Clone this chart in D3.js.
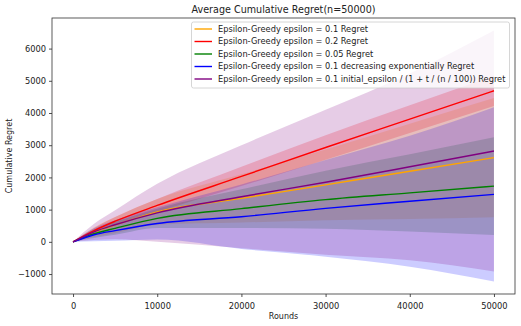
<!DOCTYPE html>
<html>
<head>
<meta charset="utf-8">
<script src="https://cdn.jsdelivr.net/npm/d3@7"></script>
<style>
  body { margin: 0; background: white; }
  text { font-family: "DejaVu Sans", sans-serif; fill: #222; }
</style>
</head>
<body>
<div id="chart"></div>
<script>
var rounds = [0, 2500, 5000, 10000, 20000, 30000, 40000, 50000];

// mean cumulative regret per strategy
var regretEps01   = [0, 300, 520, 930, 1350, 1770, 2190, 2615];
var regretEps02   = [0, 350, 640, 1130, 2030, 2930, 3810, 4690];
var regretEps005  = [0, 250, 420, 730, 1030, 1310, 1520, 1730];
var regretExpDec  = [0, 220, 350, 570, 780, 1040, 1260, 1475];
var regretInvDec  = [0, 310, 530, 900, 1400, 1850, 2330, 2820];

// standard deviation (shaded band is mean +/- std)
var stdEps01  = [0, 150, 250, 400, 750, 1100, 1480, 1850];
var stdEps02  = [0, 80, 130, 200, 300, 380, 430, 470];
var stdEps005 = [0, 130, 200, 300, 600, 900, 1200, 1520];
var stdExpDec = [0, 200, 320, 500, 1000, 1500, 2030, 2705];
var stdInvDec = [0, 250, 450, 900, 1600, 2250, 2900, 3740];

var seriesNames = [
    "Epsilon-Greedy epsilon = 0.1 Regret",
    "Epsilon-Greedy epsilon = 0.2 Regret",
    "Epsilon-Greedy epsilon = 0.05 Regret",
    "Epsilon-Greedy epsilon = 0.1 decreasing exponentially Regret",
    "Epsilon-Greedy epsilon = 0.1 initial_epsilon / (1 + t / (n / 100)) Regret"
];
var seriesColors = ["orange", "red", "green", "blue", "purple"];

var xTicks = [0, 10000, 20000, 30000, 40000, 50000];
var yTicks = [-1000, 0, 1000, 2000, 3000, 4000, 5000, 6000];

var means = [regretEps01, regretEps02, regretEps005, regretExpDec, regretInvDec];
var stds = [stdEps01, stdEps02, stdEps005, stdExpDec, stdInvDec];

var series = seriesNames.map(function(name, i) {
    return {
        name: name,
        color: seriesColors[i],
        points: rounds.map(function(r, j) {
            return { r: r, m: means[i][j], lo: means[i][j] - stds[i][j], hi: means[i][j] + stds[i][j] };
        })
    };
});

var margin = { top: 18, right: 6, bottom: 32, left: 52 };
var width = 521 - margin.left - margin.right;
var height = 326 - margin.top - margin.bottom;

var svg = d3.select("#chart")
    .append("svg")
        .attr("width", 521)
        .attr("height", 326)
    .append("g")
    .attr("transform", "translate(" + margin.left + "," + margin.top + ")");

// matplotlib style 5% padding on both axes
var xExt = d3.extent(rounds);
var xPad = (xExt[1] - xExt[0]) * 0.05;
var yMin = d3.min(series, function(s) { return d3.min(s.points, function(p) { return p.lo; }); });
var yMax = d3.max(series, function(s) { return d3.max(s.points, function(p) { return p.hi; }); });
var yPad = (yMax - yMin) * 0.05;

var x = d3.scaleLinear().range([0, width]).domain([xExt[0] - xPad, xExt[1] + xPad]);
var y = d3.scaleLinear().range([height, 0]).domain([yMin - yPad, yMax + yPad]);

var area = d3.area()
    .curve(d3.curveMonotoneX)
    .x(function(d) { return x(d.r); })
    .y0(function(d) { return y(d.lo); })
    .y1(function(d) { return y(d.hi); });

var line = d3.line()
    .curve(d3.curveMonotoneX)
    .x(function(d) { return x(d.r); })
    .y(function(d) { return y(d.m); });

// shaded bands first, mean lines on top
svg.selectAll("path.band")
    .data(series)
    .enter()
    .append("path")
    .attr("class", "band")
    .attr("d", function(d) { return area(d.points); })
    .attr("fill", function(d) { return d.color; })
    .attr("fill-opacity", 0.2)
    .attr("stroke", "none");

svg.selectAll("path.mean")
    .data(series)
    .enter()
    .append("path")
    .attr("class", "mean")
    .attr("d", function(d) { return line(d.points); })
    .attr("fill", "none")
    .attr("stroke", function(d) { return d.color; })
    .attr("stroke-width", 1.4);

// axes
var xAxis = svg.append("g")
    .attr("transform", "translate(0," + height + ")")
    .call(d3.axisBottom(x).tickValues(xTicks).tickFormat(d3.format("d")).tickSize(3).tickSizeOuter(0));
var yAxis = svg.append("g")
    .call(d3.axisLeft(y).tickValues(yTicks).tickFormat(function(d) { return d < 0 ? "\u2212" + Math.abs(d) : d; }).tickSize(3).tickSizeOuter(0));

[xAxis, yAxis].forEach(function(a) {
    a.selectAll("text").style("font-size", "8.3px").style("font-family", "DejaVu Sans").attr("fill", "#222");
    a.selectAll("line").attr("stroke", "#222").attr("stroke-width", 0.8);
    a.select(".domain").remove();
});
xAxis.selectAll("text").attr("dy", "1.05em");

svg.append("rect")
    .attr("x", 0)
    .attr("y", 0)
    .attr("width", width)
    .attr("height", height)
    .attr("fill", "none")
    .attr("stroke", "#333")
    .attr("stroke-width", 0.8);

svg.append("text")
    .attr("x", width / 2)
    .attr("y", -5)
    .style("text-anchor", "middle")
    .style("font-size", "9.6px")
    .text("Average Cumulative Regret(n=50000)");

svg.append("text")
    .attr("transform", "translate(" + (width / 2) + "," + (height + 25) + ")")
    .style("text-anchor", "middle")
    .style("font-size", "8px")
    .text("Rounds");

svg.append("text")
    .attr("transform", "rotate(-90)")
    .attr("x", 0 - (height / 2))
    .attr("y", 12 - margin.left)
    .style("text-anchor", "middle")
    .style("font-size", "8px")
    .text("Cumulative Regret");

// legend
var legend = svg.append("g")
    .attr("transform", "translate(" + (191.5 - margin.left) + "," + (22 - margin.top) + ")");

legend.append("rect")
    .attr("width", 318)
    .attr("height", 66)
    .attr("rx", 2)
    .attr("fill", "white")
    .attr("fill-opacity", 0.8)
    .attr("stroke", "#ccc")
    .attr("stroke-width", 0.8);

var rows = legend.selectAll("g.row")
    .data(series)
    .enter()
    .append("g")
    .attr("class", "row")
    .attr("transform", function(d, i) { return "translate(0," + (7 + i * 12.5) + ")"; });

rows.append("line")
    .attr("x1", 3)
    .attr("x2", 20.5)
    .attr("stroke", function(d) { return d.color; })
    .attr("stroke-width", 1.4);

rows.append("text")
    .attr("x", 26.5)
    .attr("dy", "0.35em")
    .style("font-size", "8.25px")
    .text(function(d) { return d.name; });
</script>
</body>
</html>
